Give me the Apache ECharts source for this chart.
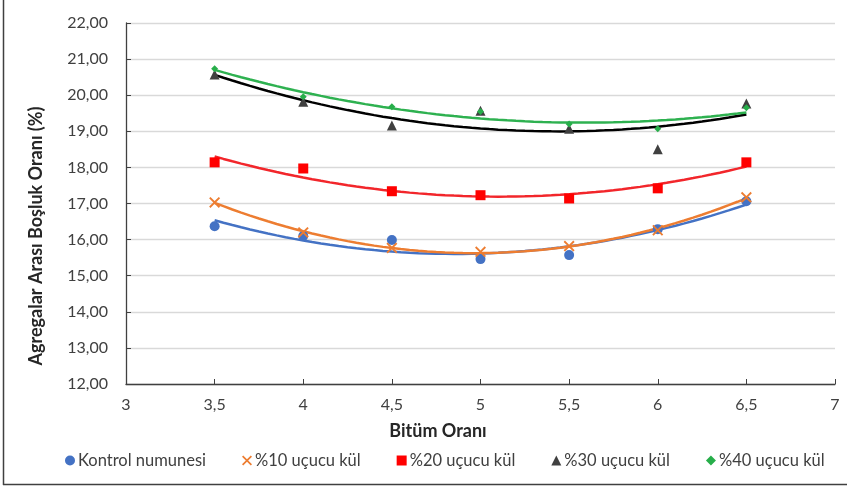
<!DOCTYPE html>
<html>
<head>
<meta charset="utf-8">
<script src="https://cdn.jsdelivr.net/npm/echarts@6/dist/echarts.min.js"></script>
<style>html,body{margin:0;padding:0;background:#fff}#c{width:847px;height:490px}</style>
</head>
<body>
<div id="c"></div>
<script>
var xValues = [3.5, 4, 4.5, 5, 5.5, 6, 6.5];
var seriesNames = ['Kontrol numunesi', '%10 uçucu kül', '%20 uçucu kül', '%30 uçucu kül', '%40 uçucu kül'];
var kontrol = [16.37, 16.10, 15.99, 15.46, 15.57, 16.29, 17.06];
var kul10 = [17.03, 16.20, 15.77, 15.66, 15.82, 16.26, 17.17];
var kul20 = [18.14, 17.97, 17.34, 17.23, 17.14, 17.42, 18.14];
var kul30 = [20.57, 19.82, 19.16, 19.57, 19.07, 18.50, 19.77];
var kul40 = [20.73, 19.96, 19.68, 19.55, 19.20, 19.07, 19.65];
var yTicks = [12, 13, 14, 15, 16, 17, 18, 19, 20, 21, 22];
var xTicks = [3, 3.5, 4, 4.5, 5, 5.5, 6, 6.5, 7];
var xTitle = 'Bitüm Oranı';
var yTitle = 'Agregalar Arası Boşluk Oranı (%)';

var colors = ['#4472C4', '#ED7D31', '#FF0000', '#404040', '#27AE4A'];
var lineColors = ['#4472C4', '#ED7D31', '#F2262B', '#000000', '#2EB150'];
var symbols = [
  'circle',
  'path://M0,1.2L1.2,0L5,3.8L8.8,0L10,1.2L6.2,5L10,8.8L8.8,10L5,6.2L1.2,10L0,8.8L3.8,5Z',
  'rect',
  'triangle',
  'diamond'
];
var symbolSizes = [10, 11, 10, 10, 7];
var allData = [kontrol, kul10, kul20, kul30, kul40];

// quadratic least-squares trendline (as in the original spreadsheet)
function quadFit(xs, ys) {
  var n = xs.length, s = [0,0,0,0,0], t = [0,0,0];
  for (var i = 0; i < n; i++) {
    var x = xs[i], y = ys[i], p = 1;
    for (var k = 0; k < 5; k++) { s[k] += p; if (k < 3) t[k] += p * y; p *= x; }
  }
  var A = [[s[0], s[1], s[2], t[0]], [s[1], s[2], s[3], t[1]], [s[2], s[3], s[4], t[2]]];
  for (var c = 0; c < 3; c++) {
    for (var r = c + 1; r < 3; r++) {
      var f = A[r][c] / A[c][c];
      for (var j = c; j < 4; j++) A[r][j] -= f * A[c][j];
    }
  }
  var b = [0,0,0];
  for (var r2 = 2; r2 >= 0; r2--) {
    var v = A[r2][3];
    for (var j2 = r2 + 1; j2 < 3; j2++) v -= A[r2][j2] * b[j2];
    b[r2] = v / A[r2][r2];
  }
  return b;
}
function trend(ys) {
  var b = quadFit(xValues, ys), out = [];
  var x0 = xValues[0], x1 = xValues[xValues.length - 1];
  for (var i = 0; i <= 60; i++) {
    var x = x0 + (x1 - x0) * i / 60;
    out.push([x, b[0] + b[1] * x + b[2] * x * x]);
  }
  return out;
}

var FONT = 'Lato';
var series = [];
allData.forEach(function (d, i) {
  series.push({
    type: 'line', data: trend(d), showSymbol: false, symbol: 'none',
    lineStyle: { color: lineColors[i], width: 2.5 }, silent: true, z: 2,
    legendHoverLink: false
  });
});
allData.forEach(function (d, i) {
  series.push({
    name: seriesNames[i], type: 'scatter',
    data: xValues.map(function (x, k) { return [x, d[k]]; }),
    symbol: symbols[i], symbolSize: symbolSizes[i],
    itemStyle: { color: colors[i], opacity: 1 }, z: 3
  });
});

var chart = echarts.init(document.getElementById('c'), null, { renderer: 'canvas' });
chart.setOption({
  animation: false,
  backgroundColor: '#fff',
  grid: { left: 126, right: 12, top: 23, bottom: 106, containLabel: false },
  xAxis: {
    type: 'value', min: 3, max: 7, interval: 0.5,
    axisLine: { show: true, lineStyle: { color: '#404040', width: 1.3 } },
    axisTick: { show: true, inside: true, length: 5, lineStyle: { color: '#404040' } },
    splitLine: { show: false },
    axisLabel: { fontFamily: FONT, fontSize: 16, color: '#404040', margin: 13,
      formatter: function (v) { return String(v).replace('.', ','); } }
  },
  yAxis: {
    type: 'value', min: 12, max: 22, interval: 1,
    axisLine: { show: true, lineStyle: { color: '#404040', width: 1.3 } },
    axisTick: { show: true, inside: true, length: 5, lineStyle: { color: '#404040' } },
    splitLine: { show: true, lineStyle: { color: '#D9D9D9', width: 1.3 } },
    axisLabel: { fontFamily: FONT, fontSize: 16, color: '#404040', margin: 18,
      formatter: function (v) { return v.toFixed(2).replace('.', ','); } }
  },
  legend: {
    data: seriesNames.map(function (n, i) { return { name: n, icon: symbols[i] }; }),
    top: 452, left: 65, padding: 0, itemWidth: 10, itemHeight: 10, itemGap: 36,
    textStyle: { fontFamily: FONT, fontSize: 16.5, color: '#404040', padding: [0, 0, 0, -2] },
    selectedMode: false
  },
  graphic: [
    { type: 'line', shape: { x1: 3.5, y1: 0, x2: 3.5, y2: 485 }, style: { stroke: '#404040', lineWidth: 1.5 }, silent: true },
    { type: 'line', shape: { x1: 3, y1: 484.5, x2: 847, y2: 484.5 }, style: { stroke: '#404040', lineWidth: 1.5 }, silent: true },
    { type: 'text', x: 438, y: 431, silent: true,
      style: { text: xTitle, font: 'bold 18px Lato', fill: '#262626', align: 'center', verticalAlign: 'middle' } },
    { type: 'text', x: 36, y: 236, rotation: Math.PI / 2, silent: true,
      style: { text: yTitle, font: 'bold 18px Lato', fill: '#262626', align: 'center', verticalAlign: 'middle' } }
  ],
  series: series
});
</script>
</body>
</html>
